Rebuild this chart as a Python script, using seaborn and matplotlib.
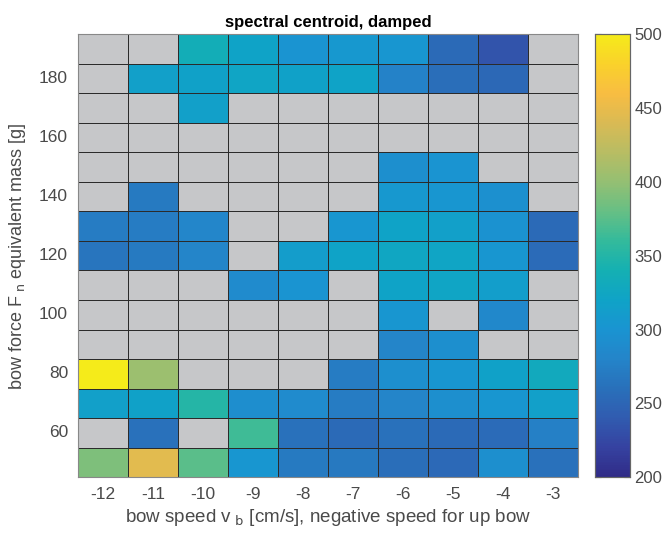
import numpy as np
import pandas as pd
import matplotlib
matplotlib.use("Agg")
import matplotlib.pyplot as plt
import seaborn as sns
from matplotlib.colors import LinearSegmentedColormap, ListedColormap

sns.set_style("white")
plt.rcParams['font.family'] = ['Liberation Sans', 'DejaVu Sans']

speeds = [-12, -11, -10, -9, -8, -7, -6, -5, -4, -3]
masses = [190, 180, 170, 160, 150, 140, 130, 120, 110, 100, 90, 80, 70, 60, 50]
N = np.nan
centroid = [
    [N, N, 335, 320, 300, 305, 302, 255, 235, N],     # 190
    [N, 315, 318, 322, 318, 320, 278, 258, 252, N],   # 180
    [N, N, 316, N, N, N, N, N, N, N],                 # 170
    [N, N, N, N, N, N, N, N, N, N],                   # 160
    [N, N, N, N, N, N, 293, 300, N, N],               # 150
    [N, 270, N, N, N, N, 305, 302, 295, N],           # 140
    [272, 272, 282, N, N, 302, 320, 315, 298, 255],   # 130
    [265, 270, 280, N, 312, 320, 325, 322, 302, 256], # 120
    [N, N, N, 288, 300, N, 320, 322, 313, N],         # 110
    [N, N, N, N, N, N, 302, N, 285, N],               # 100
    [N, N, N, N, N, N, 280, 293, N, N],               # 90
    [500, 405, N, N, N, 272, 293, 303, 318, 330],     # 80
    [316, 318, 350, 292, 288, 272, 280, 293, 302, 315],  # 70
    [N, 262, N, 365, 262, 255, 262, 255, 256, 275],   # 60
    [390, 445, 375, 302, 270, 268, 258, 253, 293, 262],  # 50
]
ytick_labels = [60, 80, 100, 120, 140, 160, 180]
cbar_ticks = [200, 250, 300, 350, 400, 450, 500]

df = pd.DataFrame(centroid, index=masses, columns=speeds)

anchors = [
    (0.19, 0.17, 0.53), (0.21, 0.26, 0.63), (0.19, 0.36, 0.69), (0.16, 0.44, 0.73),
    (0.14, 0.52, 0.79), (0.10, 0.58, 0.82), (0.06, 0.64, 0.78), (0.08, 0.69, 0.70),
    (0.20, 0.73, 0.61), (0.40, 0.75, 0.52), (0.58, 0.75, 0.45), (0.72, 0.74, 0.39),
    (0.85, 0.73, 0.33), (0.97, 0.74, 0.26), (0.98, 0.82, 0.17), (0.96, 0.92, 0.10),
]
cmap = LinearSegmentedColormap.from_list("parula_like", anchors, N=256)

fig = plt.figure(figsize=(6.65, 5.35), dpi=100)
ax = fig.add_axes([0.117, 0.108, 0.752, 0.828])
cax = fig.add_axes([0.895, 0.108, 0.053, 0.828])

gray = "#c6c7c9"
edge = "#2b2b2b"
# background layer (gray cells with edges)
sns.heatmap(pd.DataFrame(np.zeros(df.shape), index=masses, columns=speeds),
            cmap=ListedColormap([gray]), cbar=False, ax=ax,
            linewidths=0.6, linecolor=edge)
sns.heatmap(df, cmap=cmap, vmin=200, vmax=500, ax=ax, cbar_ax=cax,
            linewidths=0.6, linecolor=edge,
            cbar_kws={"ticks": cbar_ticks})

tc = "#4a4a4a"
ax.set_xticks(np.arange(len(speeds)) + 0.5)
ax.set_xticklabels([str(s) for s in speeds], rotation=0, fontsize=12.5, color=tc)
ypos = [masses.index(m) + 0.5 for m in ytick_labels]
ax.set_yticks(ypos)
ax.set_yticklabels([str(m) for m in ytick_labels], rotation=0, fontsize=12.5, color=tc)
ax.tick_params(axis='both', direction='in', length=4, width=0.8, color='#666666',
               top=True, right=True, bottom=True, left=True, pad=7)
for s in ax.spines.values():
    s.set_visible(True)
    s.set_color('#888888')
    s.set_linewidth(0.8)

ax.set_title("spectral centroid, damped", fontsize=12, fontweight='bold', color='black', pad=5)
ax.set_xlabel("bow speed v$_{\\rm\\ b}$ [cm/s], negative speed for up bow", fontsize=13.5, color=tc, labelpad=4)
ax.set_ylabel("bow force F$_{\\rm\\ n}$ equivalent mass [g]", fontsize=13, color=tc, labelpad=8)

cax.tick_params(direction='in', length=4, width=0.8, color='#666666', labelsize=12,
                labelcolor=tc, left=True, right=True, pad=3)
cax.yaxis.set_ticks_position('both')
cax.yaxis.set_label_position('right')
for s in cax.spines.values():
    s.set_visible(True)
    s.set_color('#666666')
    s.set_linewidth(0.8)

fig.savefig("out.png", dpi=100)
